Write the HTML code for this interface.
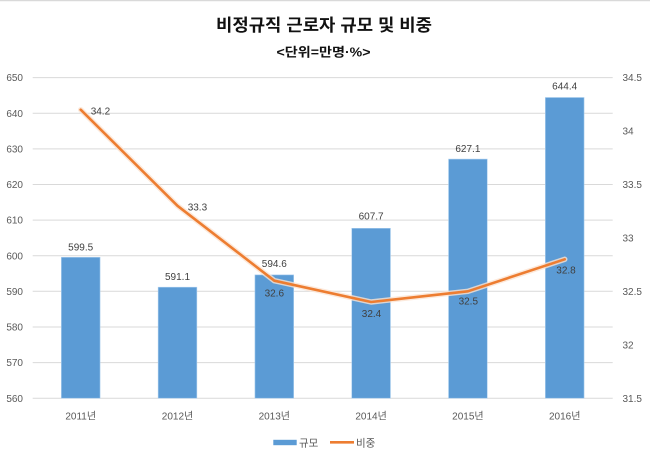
<!DOCTYPE html>
<html><head><meta charset="utf-8">
<style>
html,body{margin:0;padding:0;background:#fff;}
svg{display:block;}
text{font-family:"Liberation Sans","Noto Sans CJK KR",sans-serif;}
</style></head>
<body>
<svg width="650" height="460" viewBox="0 0 650 460" xmlns="http://www.w3.org/2000/svg">
<rect x="0" y="0" width="650" height="460" fill="#fff"/>
<line x1="0" y1="0.5" x2="650" y2="0.5" stroke="#d9d9d9" stroke-width="1.5"/>
<text x="324" y="31" text-anchor="middle" font-size="17" font-weight="bold" fill="#111" textLength="216" lengthAdjust="spacingAndGlyphs">비정규직 근로자 규모 및 비중</text>
<text x="323.5" y="56.5" text-anchor="middle" font-size="12.5" font-weight="bold" fill="#111" textLength="94" lengthAdjust="spacingAndGlyphs">&lt;단위=만명·%&gt;</text>
<g stroke="#d9d9d9" stroke-width="1">
<line x1="32.7" y1="77.6" x2="612.7" y2="77.6"/>
<line x1="32.7" y1="113.2" x2="612.7" y2="113.2"/>
<line x1="32.7" y1="148.9" x2="612.7" y2="148.9"/>
<line x1="32.7" y1="184.5" x2="612.7" y2="184.5"/>
<line x1="32.7" y1="220.1" x2="612.7" y2="220.1"/>
<line x1="32.7" y1="255.7" x2="612.7" y2="255.7"/>
<line x1="32.7" y1="291.3" x2="612.7" y2="291.3"/>
<line x1="32.7" y1="327.0" x2="612.7" y2="327.0"/>
<line x1="32.7" y1="362.6" x2="612.7" y2="362.6"/>
<line x1="32.7" y1="398.2" x2="612.7" y2="398.2"/>
</g>
<g font-size="10" fill="#595959" text-anchor="end">
<text x="23" y="81.2">650</text>
<text x="23" y="116.8">640</text>
<text x="23" y="152.5">630</text>
<text x="23" y="188.1">620</text>
<text x="23" y="223.7">610</text>
<text x="23" y="259.3">600</text>
<text x="23" y="294.9">590</text>
<text x="23" y="330.6">580</text>
<text x="23" y="366.2">570</text>
<text x="23" y="401.8">560</text>
</g>
<g font-size="10" fill="#595959" text-anchor="start">
<text x="622.5" y="81.2">34.5</text>
<text x="622.5" y="134.6">34</text>
<text x="622.5" y="188.1">33.5</text>
<text x="622.5" y="241.5">33</text>
<text x="622.5" y="294.9">32.5</text>
<text x="622.5" y="348.4">32</text>
<text x="622.5" y="401.8">31.5</text>
</g>
<g fill="#5b9bd5" stroke="#a9cdee" stroke-width="0.6">
<rect x="61.35" y="257.3" width="38.7" height="140.9"/>
<rect x="158.15" y="287.2" width="38.7" height="111.0"/>
<rect x="254.95" y="274.9" width="38.7" height="123.3"/>
<rect x="351.75" y="228.3" width="38.7" height="169.9"/>
<rect x="448.55" y="159.1" width="38.7" height="239.1"/>
<rect x="545.35" y="97.5" width="38.7" height="300.7"/>
</g>
<g font-size="10" fill="#404040" text-anchor="middle">
<text x="80.7" y="250.3">599.5</text>
<text x="177.5" y="280.2">591.1</text>
<text x="274.3" y="266.9">594.6</text>
<text x="371.1" y="219.6">607.7</text>
<text x="467.9" y="151.9">627.1</text>
<text x="564.7" y="89.6">644.4</text>
</g>
<polyline points="80.7,109.7 177.5,205.8 274.3,280.7 371.1,302.0 467.9,291.3 564.7,259.3" fill="none" stroke="#fbe3d2" stroke-width="5.5" stroke-linejoin="round" stroke-linecap="round" opacity="0.8"/>
<polyline points="80.7,109.7 177.5,205.8 274.3,280.7 371.1,302.0 467.9,291.3 564.7,259.3" fill="none" stroke="#ed7d31" stroke-width="2.6" stroke-linejoin="round" stroke-linecap="round"/>
<g font-size="10" fill="#404040">
<text x="90.7" y="114.3">34.2</text>
<text x="187.7" y="210.3">33.3</text>
<text x="274.3" y="296.3" text-anchor="middle">32.6</text>
<text x="371.5" y="316.9" text-anchor="middle">32.4</text>
<text x="468.3" y="304.3" text-anchor="middle">32.5</text>
<text x="566" y="273.6" text-anchor="middle">32.8</text>
</g>
<g font-size="10" fill="#595959" text-anchor="middle">
<text x="80.7" y="419.6">2011년</text>
<text x="177.5" y="419.6">2012년</text>
<text x="274.3" y="419.6">2013년</text>
<text x="371.1" y="419.6">2014년</text>
<text x="467.9" y="419.6">2015년</text>
<text x="564.7" y="419.6">2016년</text>
</g>
<rect x="273.3" y="439.8" width="23.4" height="5.4" fill="#5b9bd5"/>
<text x="299" y="446.3" font-size="10.5" fill="#595959">규모</text>
<line x1="330" y1="442.3" x2="354" y2="442.3" stroke="#ed7d31" stroke-width="2.6"/>
<text x="356" y="446.3" font-size="10.5" fill="#595959">비중</text>
</svg>
</body></html>
